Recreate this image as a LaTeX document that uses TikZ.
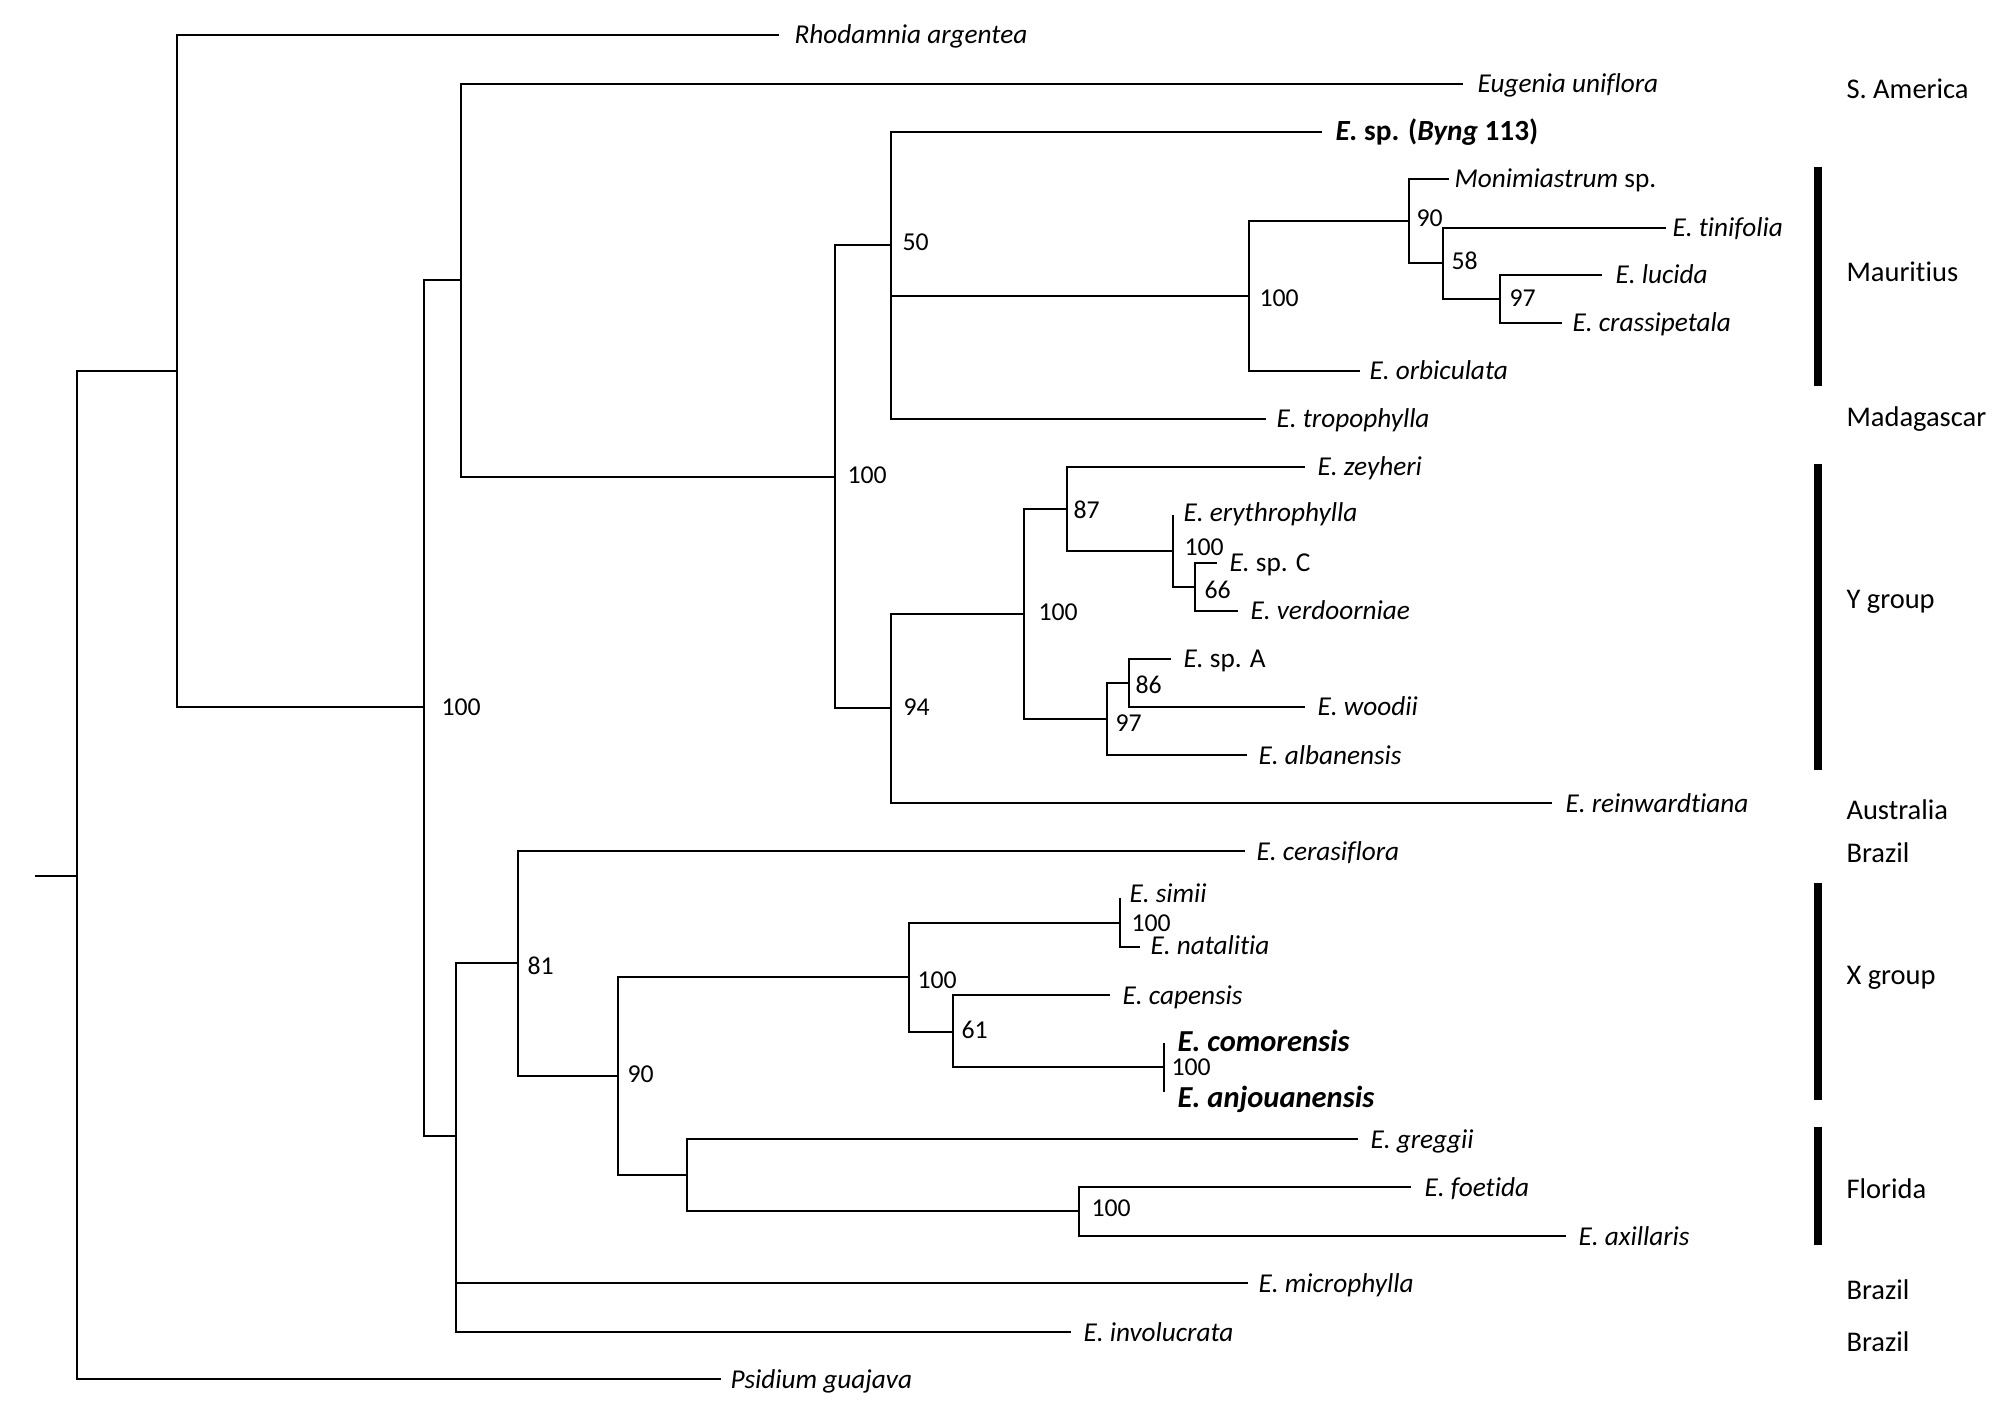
\documentclass[tikz,border=0pt]{standalone}
\usepackage{fontspec}
\setmainfont{Carlito}[Ligatures=NoCommon]
\begin{document}
\begin{tikzpicture}[x=0.4pt,y=-0.4pt,
  br/.style={line width=0.95pt},
  bar/.style={line width=3.3pt},
  tax/.style={anchor=base west, inner sep=0pt, font=\fontsize{10.9}{13}\selectfont\itshape},
  taxb/.style={anchor=base west, inner sep=0pt, font=\fontsize{12.2}{14}\selectfont\bfseries\itshape},
  bs/.style={anchor=base west, inner sep=0pt, font=\fontsize{10.3}{12}\selectfont},
  reg/.style={anchor=base west, inner sep=0pt, font=\fontsize{11.4}{13}\selectfont}]
\useasboundingbox (0,0) rectangle (2012,1410);
% internal nodes
\coordinate (r0) at (35,876);
\coordinate (nR0) at (77,876);
\coordinate (nA) at (177,371);
\coordinate (nD) at (424,707);
\coordinate (nB) at (461,280);
\coordinate (nC) at (835,477);
\coordinate (nN) at (891,245);
\coordinate (nO) at (1249,296);
\coordinate (nP) at (1409,221);
\coordinate (nQ) at (1443,263);
\coordinate (nR) at (1500,299);
\coordinate (nS) at (891,708);
\coordinate (nT) at (1024,614);
\coordinate (nU) at (1067,509);
\coordinate (nW) at (1173,551);
\coordinate (nX) at (1195,587);
\coordinate (nV) at (1107,719);
\coordinate (nY) at (1129,683);
\coordinate (nE) at (456,1136);
\coordinate (nF) at (518,963);
\coordinate (nG) at (618,1076);
\coordinate (nH) at (909,977);
\coordinate (nJ) at (1120,923);
\coordinate (nK) at (953,1032);
\coordinate (nL) at (1164,1067);
\coordinate (nI) at (687,1175);
\coordinate (nM) at (1079,1211);
% tip ends
\coordinate (eRho) at (779,35);
\coordinate (eEug) at (1463,84);
\coordinate (eByng) at (1322,132);
\coordinate (eMon) at (1449,179);
\coordinate (eTin) at (1666,228);
\coordinate (eLuc) at (1602,275);
\coordinate (eCra) at (1562,323);
\coordinate (eOrb) at (1360,371);
\coordinate (eTro) at (1266,419);
\coordinate (eZey) at (1305,467);
\coordinate (eEry) at (1173,515);
\coordinate (eSpC) at (1217,563);
\coordinate (eVer) at (1238,611);
\coordinate (eSpA) at (1171,659);
\coordinate (eWoo) at (1305,707);
\coordinate (eAlb) at (1247,755);
\coordinate (eRei) at (1552,803);
\coordinate (eCer) at (1245,851);
\coordinate (eSim) at (1120,898);
\coordinate (eNat) at (1140,947);
\coordinate (eCap) at (1110,995);
\coordinate (eCom) at (1164,1043);
\coordinate (eAnj) at (1164,1092);
\coordinate (eGre) at (1358,1139);
\coordinate (eFoe) at (1411,1187);
\coordinate (eAxi) at (1566,1236);
\coordinate (eMic) at (1248,1283);
\coordinate (eInv) at (1071,1332);
\coordinate (ePsi) at (721,1379);
% branches
\draw[br] (r0) -- (nR0);
\draw[br] (nR0) |- (nA) (nR0) |- (ePsi);
\draw[br] (nA) |- (eRho) (nA) |- (nD);
\draw[br] (nD) |- (nB) (nD) |- (nE);
\draw[br] (nB) |- (eEug) (nB) |- (nC);
\draw[br] (nC) |- (nN) (nC) |- (nS);
\draw[br] (nN) |- (eByng) (nN) |- (nO) (nN) |- (eTro);
\draw[br] (nO) |- (nP) (nO) |- (eOrb);
\draw[br] (nP) |- (eMon) (nP) |- (nQ);
\draw[br] (nQ) |- (eTin) (nQ) |- (nR);
\draw[br] (nR) |- (eLuc) (nR) |- (eCra);
\draw[br] (nS) |- (nT) (nS) |- (eRei);
\draw[br] (nT) |- (nU) (nT) |- (nV);
\draw[br] (nU) |- (eZey) (nU) |- (nW);
\draw[br] (nW) |- (eEry) (nW) |- (nX);
\draw[br] (nX) |- (eSpC) (nX) |- (eVer);
\draw[br] (nV) |- (nY) (nV) |- (eAlb);
\draw[br] (nY) |- (eSpA) (nY) |- (eWoo);
\draw[br] (nE) |- (nF) (nE) |- (eMic) (nE) |- (eInv);
\draw[br] (nF) |- (eCer) (nF) |- (nG);
\draw[br] (nG) |- (nH) (nG) |- (nI);
\draw[br] (nH) |- (nJ) (nH) |- (nK);
\draw[br] (nJ) |- (eSim) (nJ) |- (eNat);
\draw[br] (nK) |- (eCap) (nK) |- (nL);
\draw[br] (nL) |- (eCom) (nL) |- (eAnj);
\draw[br] (nI) |- (eGre) (nI) |- (nM);
\draw[br] (nM) |- (eFoe) (nM) |- (eAxi);
% taxon labels
\node[tax] (lRho) at (794,44) {Rhodamnia argentea};
\node[tax] (lEug) at (1477,93) {Eugenia uniflora};
\node[anchor=base west, inner sep=0pt, font=\fontsize{11.7}{14}\selectfont\bfseries] (lByng) at (1335,141) {\textit{E.} sp. (\textit{Byng} 113)};
\node[tax] (lMon) at (1454,188) {Monimiastrum \textup{sp.}};
\node[tax] (lTin) at (1672,237) {E. tinifolia};
\node[tax] (lLuc) at (1615,284) {E. lucida};
\node[tax] (lCra) at (1572,332) {E. crassipetala};
\node[tax] (lOrb) at (1369,380) {E. orbiculata};
\node[tax] (lTro) at (1276,428) {E. tropophylla};
\node[tax] (lZey) at (1317,476) {E. zeyheri};
\node[tax] (lEry) at (1183,522) {E. erythrophylla};
\node[tax] (lSpC) at (1229,572) {E. \textup{sp. C}};
\node[tax] (lVer) at (1250,620) {E. verdoorniae};
\node[tax] (lSpA) at (1183,668) {E. \textup{sp. A}};
\node[tax] (lWoo) at (1317,716) {E. woodii};
\node[tax] (lAlb) at (1258,764) {E. albanensis};
\node[tax] (lRei) at (1565,812) {E. reinwardtiana};
\node[tax] (lCer) at (1256,860) {E. cerasiflora};
\node[tax] (lSim) at (1129,902) {E. simii};
\node[tax] (lNat) at (1150,954) {E. natalitia};
\node[tax] (lCap) at (1122,1004) {E. capensis};
\node[taxb] (lCom) at (1177,1051) {E. comorensis};
\node[taxb] (lAnj) at (1177,1107) {E. anjouanensis};
\node[tax] (lGre) at (1370,1148) {E. greggii};
\node[tax] (lFoe) at (1424,1196) {E. foetida};
\node[tax] (lAxi) at (1578,1245) {E. axillaris};
\node[tax] (lMic) at (1258,1292) {E. microphylla};
\node[tax] (lInv) at (1083,1341) {E. involucrata};
\node[tax] (lPsi) at (730,1388) {Psidium guajava};
% support values
\node[bs] (bN) at (902,251) {50};
\node[bs] (bO) at (1259,307) {100};
\node[bs] (bP) at (1416,227) {90};
\node[bs] (bQ) at (1451,270) {58};
\node[bs] (bR) at (1509,307) {97};
\node[bs] (bC) at (847,484) {100};
\node[bs] (bU) at (1073,519) {87};
\node[bs] (bW) at (1184,556) {100};
\node[bs] (bX) at (1204,599) {66};
\node[bs] (bT) at (1038,621) {100};
\node[bs] (bY) at (1135,694) {86};
\node[bs] (bS) at (903,716) {94};
\node[bs] (bV) at (1115,732) {97};
\node[bs] (bD) at (441,716) {100};
\node[bs] (bF) at (527,974) {81};
\node[bs] (bJ) at (1131,931) {100};
\node[bs] (bH) at (917,988) {100};
\node[bs] (bK) at (961,1038) {61};
\node[bs] (bL) at (1171,1075) {100};
\node[bs] (bG) at (627,1082) {90};
\node[bs] (bM) at (1091,1216) {100};
% region bars
\draw[bar] (1818,167) -- (1818,386);
\draw[bar] (1818,464) -- (1818,770);
\draw[bar] (1818,883) -- (1818,1100);
\draw[bar] (1818,1127) -- (1818,1245);
% region labels
\node[reg] (gSA) at (1846,99) {S. America};
\node[reg] (gMau) at (1846,282) {Mauritius};
\node[reg] (gMad) at (1846,427) {Madagascar};
\node[reg] (gY) at (1846,609) {Y group};
\node[reg] (gAus) at (1846,819) {Australia};
\node[reg] (gBr1) at (1846,862) {Brazil};
\node[reg] (gX) at (1846,984) {X group};
\node[reg] (gFl) at (1846,1198) {Florida};
\node[reg] (gBr2) at (1846,1299) {Brazil};
\node[reg] (gBr3) at (1846,1351) {Brazil};
\end{tikzpicture}
\end{document}
